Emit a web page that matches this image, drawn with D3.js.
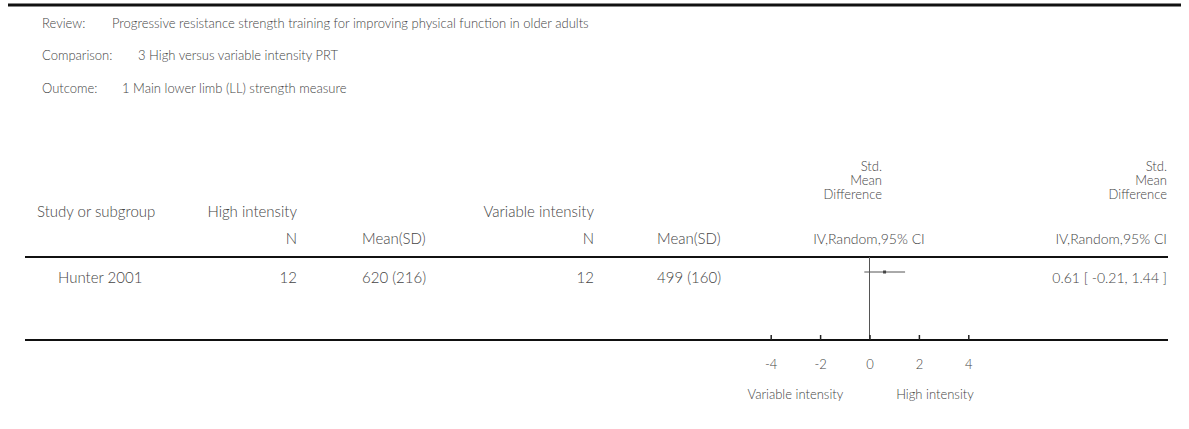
<!DOCTYPE html>
<html>
<head>
<meta charset="utf-8">
<script src="https://cdn.jsdelivr.net/npm/d3@7"></script>
<style>
  body { margin: 0; background: #fff; }
  svg text { font-family: Lato, "Open Sans", sans-serif; font-weight: 300; fill: #444; }
</style>
</head>
<body>
<svg id="forest"></svg>
<script>
// Review info lines
const infoLabels = ['Review:', 'Comparison:', 'Outcome:'];
const infoValues = [
  'Progressive resistance strength training for improving physical function in older adults',
  '3 High versus variable intensity PRT',
  '1 Main lower limb (LL) strength measure'
];

// Study data
const studies = ['Hunter 2001'];
const highN = [12];
const highMean = [620];
const highSD = [216];
const varN = [12];
const varMean = [499];
const varSD = [160];
const smd = [0.61];
const ciLow = [-0.21];
const ciHigh = [1.44];

// Axis
const axisTicks = [-4, -2, 0, 2, 4];
const leftLabel = 'Variable intensity';
const rightLabel = 'High intensity';

const width = 1189;
const height = 429;

let svg = d3.select('#forest')
    .attr('width', width)
    .attr('height', height);

// top rule
svg.append('line')
    .attr('x1', 8).attr('x2', 1181)
    .attr('y1', 5).attr('y2', 5)
    .attr('stroke', '#111').attr('stroke-width', 3);

// info lines
const infoY = [23, 55, 88];
const infoX = [112, 138, 122];
infoLabels.forEach((lab, i) => {
  svg.append('text').attr('x', 42).attr('y', infoY[i]).attr('dy', '0.35em')
      .attr('font-size', 13).text(lab);
  svg.append('text').attr('x', infoX[i]).attr('y', infoY[i]).attr('dy', '0.35em')
      .attr('font-size', 13).text(infoValues[i]);
});

// table text helper
function txt(x, y, s, anchor, size) {
  svg.append('text')
      .attr('x', x).attr('y', y).attr('dy', '0.35em')
      .attr('font-size', size || 15)
      .attr('text-anchor', anchor || 'start')
      .text(s);
}

const row1 = 212, row2 = 239;
txt(37, row1, 'Study or subgroup');
txt(297, row1, 'High intensity', 'end');
txt(297, row2, 'N', 'end');
txt(362, row2, 'Mean(SD)');
txt(594, row1, 'Variable intensity', 'end');
txt(594, row2, 'N', 'end');
txt(657, row2, 'Mean(SD)');

// forest column header
txt(882, 166, 'Std.', 'end', 13);
txt(882, 180, 'Mean', 'end', 13);
txt(882, 194, 'Difference', 'end', 13);
txt(869, row2, 'IV,Random,95% CI', 'middle', 14);

// result column header
txt(1167, 166, 'Std.', 'end', 13);
txt(1167, 180, 'Mean', 'end', 13);
txt(1167, 194, 'Difference', 'end', 13);
txt(1167, row2, 'IV,Random,95% CI', 'end', 14);

// header rule
const ruleY = 257;
svg.append('line')
    .attr('x1', 25).attr('x2', 1168)
    .attr('y1', ruleY).attr('y2', ruleY)
    .attr('stroke', '#111').attr('stroke-width', 2);

// scales
const x = d3.scaleLinear().domain([-4, 4]).range([770.7, 968.3]);
const rowY = d3.scaleBand().domain(studies).range([262, 298]);
const axisY = 340;

// zero line
svg.append('line')
    .attr('x1', x(0)).attr('x2', x(0))
    .attr('y1', ruleY).attr('y2', axisY)
    .attr('stroke', '#555').attr('stroke-width', 1);

// study rows
studies.forEach((s, i) => {
  const yc = rowY(s) + rowY.bandwidth() / 2;
  txt(58, yc - 2, s);
  txt(297, yc - 2, highN[i], 'end');
  txt(362, yc - 2, highMean[i] + ' (' + highSD[i] + ')');
  txt(594, yc - 2, varN[i], 'end');
  txt(657, yc - 2, varMean[i] + ' (' + varSD[i] + ')');
  txt(1167, yc - 2, smd[i].toFixed(2) + ' [ ' + ciLow[i].toFixed(2) + ', ' + ciHigh[i].toFixed(2) + ' ]', 'end', 14);

  const yl = yc - 8;
  svg.append('line')
      .attr('x1', x(ciLow[i])).attr('x2', x(ciHigh[i]))
      .attr('y1', yl).attr('y2', yl)
      .attr('stroke', '#555').attr('stroke-width', 1);
  svg.append('rect')
      .attr('x', x(smd[i]) - 1.5).attr('y', yl - 1.5)
      .attr('width', 3).attr('height', 3)
      .attr('fill', '#444');
});

// bottom rule
svg.append('line')
    .attr('x1', 25).attr('x2', 1168)
    .attr('y1', axisY).attr('y2', axisY)
    .attr('stroke', '#111').attr('stroke-width', 2);

// axis
let axis = svg.append('g')
    .attr('transform', 'translate(0,' + axisY + ')')
    .call(d3.axisBottom(x)
        .tickValues(axisTicks)
        .tickSizeInner(-5)
        .tickSizeOuter(0)
        .tickPadding(20)
        .tickFormat(d => String(d)));
axis.select('.domain').remove();
axis.selectAll('line').attr('stroke', '#222').attr('stroke-width', 1.5);
axis.selectAll('text')
    .attr('font-size', 13)
    .attr('fill', '#444')
    .style('font-family', 'Lato, sans-serif')
    .style('font-weight', 300);

svg.append('text').attr('x', x(-3)).attr('y', 394).attr('dy', '0.35em')
    .attr('font-size', 13).attr('text-anchor', 'middle').text(leftLabel);
svg.append('text').attr('x', x(2.65)).attr('y', 394).attr('dy', '0.35em')
    .attr('font-size', 13).attr('text-anchor', 'middle').text(rightLabel);
</script>
</body>
</html>
